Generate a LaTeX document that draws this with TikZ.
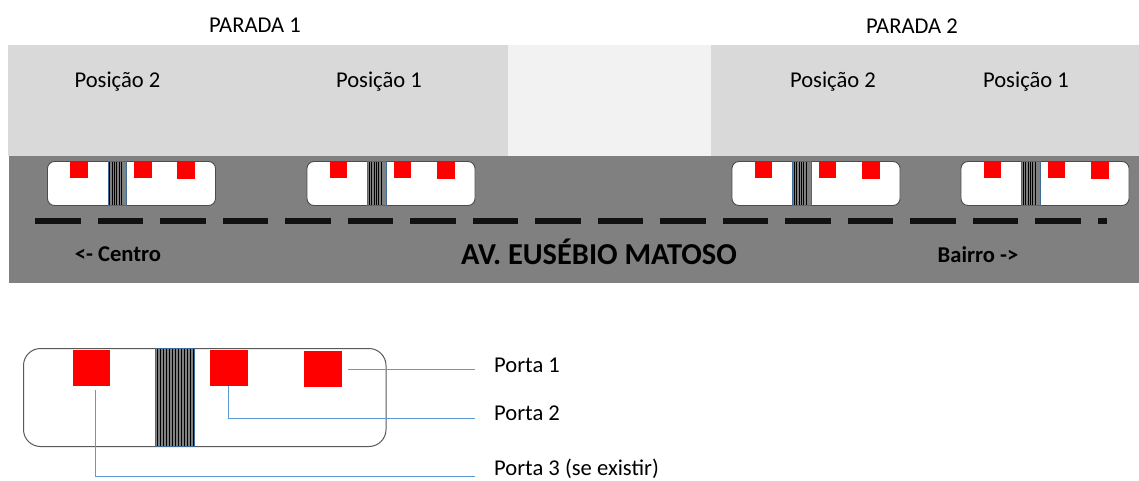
\documentclass[tikz,border=0pt]{standalone}
\usepackage{fontspec}
\setmainfont{Carlito}
\definecolor{calcada}{HTML}{D9D9D9}
\definecolor{vazio}{HTML}{F2F2F2}
\definecolor{pista}{HTML}{808080}
\definecolor{ligacao}{HTML}{5B9BD5}
\definecolor{faixa}{HTML}{111111}
\tikzset{
	texto/.style={inner sep=0pt, font=\fontsize{22.6}{26}\selectfont},
	negrito/.style={inner sep=0pt, text=black, font=\fontsize{22.6}{26}\selectfont\bfseries},
	busp/.style={draw=black!70, fill=white, line width=0.9pt, anchor=north west, inner sep=0pt, outer sep=0pt, minimum width=168pt, minimum height=44pt, rounded corners=7pt},
	busg/.style={draw=black!65, fill=white, line width=1pt, anchor=north west, inner sep=0pt, outer sep=0pt, minimum width=362.5pt, minimum height=98pt, rounded corners=17pt},
	portinha/.style={fill=red, anchor=north west, inner sep=0pt, outer sep=0pt, minimum width=17.5pt, minimum height=17pt},
	portao/.style={fill=red, anchor=north west, inner sep=0pt, outer sep=0pt, minimum width=37.5pt, minimum height=36pt},
	linha/.style={ligacao, line width=0.8pt}
}
\begin{document}
\begin{tikzpicture}[x=1pt, y=-1pt]
	\useasboundingbox (0,0) rectangle (1139,480);
	% calcada e pista
	\fill[calcada] (8,45) rectangle (508,156);
	\fill[vazio] (508,45) rectangle (711,156);
	\fill[calcada] (711,45) rectangle (1139,156);
	\fill[pista] (8.5,156) rectangle (1139,282.5);
	\foreach \i in {0,...,16} {\fill[faixa] ({35+62.5*\i},218) rectangle ({80.5+62.5*\i},224);}
	\fill[faixa] (1098,218) rectangle (1107,224);
	% onibus da via
	\foreach \dx/\n in {47.5/a, 307/b, 732/c, 961/d} {
		\node[busp] (bus\n) at (\dx,161.5) {};
		\fill[gray] (\dx+60.5,161.5) rectangle (\dx+79,205.5);
		\foreach \k in {0,...,5} {\draw[black, line width=0.5pt] (\dx+62+\k*2.4,161.5) -- (\dx+62+\k*2.4,205.5);}
		\draw[ligacao!70!black, line width=0.7pt] (\dx+60.5,161.5) rectangle (\dx+79,205.5);
		\node[portinha] (\n1) at (\dx+22.5,161) {};
		\node[portinha] (\n2) at (\dx+86.5,161) {};
		\node[portinha, minimum width=18pt, minimum height=18pt] (\n3) at (\dx+129.5,161) {};
	}
	% onibus grande
	\node[busg] (onibus) at (23.5,348.5) {};
	\fill[gray] (155.5,348.5) rectangle (194.5,446.5);
	\foreach \k in {0,...,12} {\draw[black, line width=0.6pt] (157+\k*3,348.5) -- (157+\k*3,446.5);}
	\draw[ligacao!70!black, line width=0.7pt] (155.5,348.5) rectangle (194.5,446.5);
	\node[portao] (porta3) at (72.5,350) {};
	\node[portao] (porta2) at (210,350) {};
	\node[portao] (porta1) at (304,351) {};
	% textos
	\node[texto] (parada1) at (255,25) {PARADA 1};
	\node[texto] (parada2) at (912,26) {PARADA 2};
	\node[texto] (pos2a) at (117.5,82) {Posição 2};
	\node[texto] (pos1a) at (379,82) {Posição 1};
	\node[texto] (pos2b) at (833,82) {Posição 2};
	\node[texto] (pos1b) at (1026,82) {Posição 1};
	\node[negrito] (centro) at (118,254) {<- Centro};
	\node[negrito, font=\fontsize{30.4}{34}\selectfont\bfseries] (avenida) at (599,252) {AV. EUSÉBIO MATOSO};
	\node[negrito] (bairro) at (978,255) {Bairro ->};
	\node[texto, anchor=west] (rotulo1) at (494,365) {Porta 1};
	\node[texto, anchor=west] (rotulo2) at (494,413) {Porta 2};
	\node[texto, anchor=west] (rotulo3) at (494,469) {Porta 3 (se existir)};
	% ligacoes
	\coordinate (fim1) at (475,369);
	\coordinate (fim2) at (475,418);
	\coordinate (fim3) at (475,476);
	\draw[linha, shorten <=6pt] (porta1.east) -- (fim1);
	\draw[linha] (porta2.south) |- (fim2);
	\draw[linha, shorten <=4pt] ([xshift=4pt]porta3.south) |- (fim3);
\end{tikzpicture}
\end{document}
